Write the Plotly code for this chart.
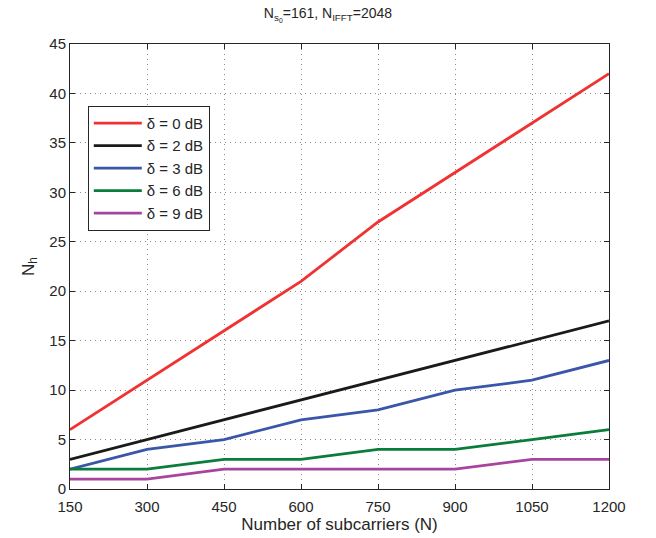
import plotly.graph_objects as go

N = [150, 300, 450, 600, 750, 900, 1050, 1200]
d0 = [6, 11, 16, 21, 27, 32, 37, 42]
d2 = [3, 5, 7, 9, 11, 13, 15, 17]
d3 = [2, 4, 5, 7, 8, 10, 11, 13]
d6 = [2, 2, 3, 3, 4, 4, 5, 6]
d9 = [1, 1, 2, 2, 2, 2, 3, 3]
names = ["δ = 0 dB", "δ = 2 dB", "δ = 3 dB", "δ = 6 dB", "δ = 9 dB"]
colors = ["#f03232", "#1a1a1a", "#3a56a8", "#0a7c3c", "#a8449e"]
series = [d0, d2, d3, d6, d9]

fig = go.Figure()
for nm, c, s in zip(names, colors, series):
    fig.add_trace(go.Scatter(x=N, y=s, mode="lines", name=nm,
                             line=dict(color=c, width=2.8)))

axis_common = dict(showline=True, linecolor="#262626", linewidth=1, mirror="ticks",
                   ticks="inside", ticklen=5, tickcolor="#262626",
                   showgrid=True, gridcolor="#8a8a8a", griddash="1px,4px", gridwidth=1,
                   zeroline=False, tickfont=dict(size=15, color="#262626"))

fig.update_layout(
    width=656, height=538,
    margin=dict(l=70, r=47, t=44, b=49),
    paper_bgcolor="white", plot_bgcolor="white",
    font=dict(family="Liberation Sans, Arial, sans-serif", color="#262626"),
    title=dict(text="N<sub>s<sub>0</sub></sub>=161, N<sub>IFFT</sub>=2048",
               x=0.5, xanchor="center", y=0.985, yanchor="top",
               font=dict(size=14, color="#262626")),
    xaxis=dict(range=[150, 1200], tickvals=N, ticklabelstandoff=4,
               title=dict(text="Number of subcarriers (N)", font=dict(size=17), standoff=0),
               **axis_common),
    yaxis=dict(range=[0, 45], dtick=5,
               title=dict(text="N<sub>h</sub>", font=dict(size=17), standoff=10),
               **axis_common),
    legend=dict(x=0.033, y=0.861, xanchor="left", yanchor="top",
                bgcolor="white", bordercolor="#262626", borderwidth=1,
                font=dict(size=15, color="#262626"), tracegroupgap=0,
                itemwidth=48),
    showlegend=True,
)
fig.write_html("out.html")
